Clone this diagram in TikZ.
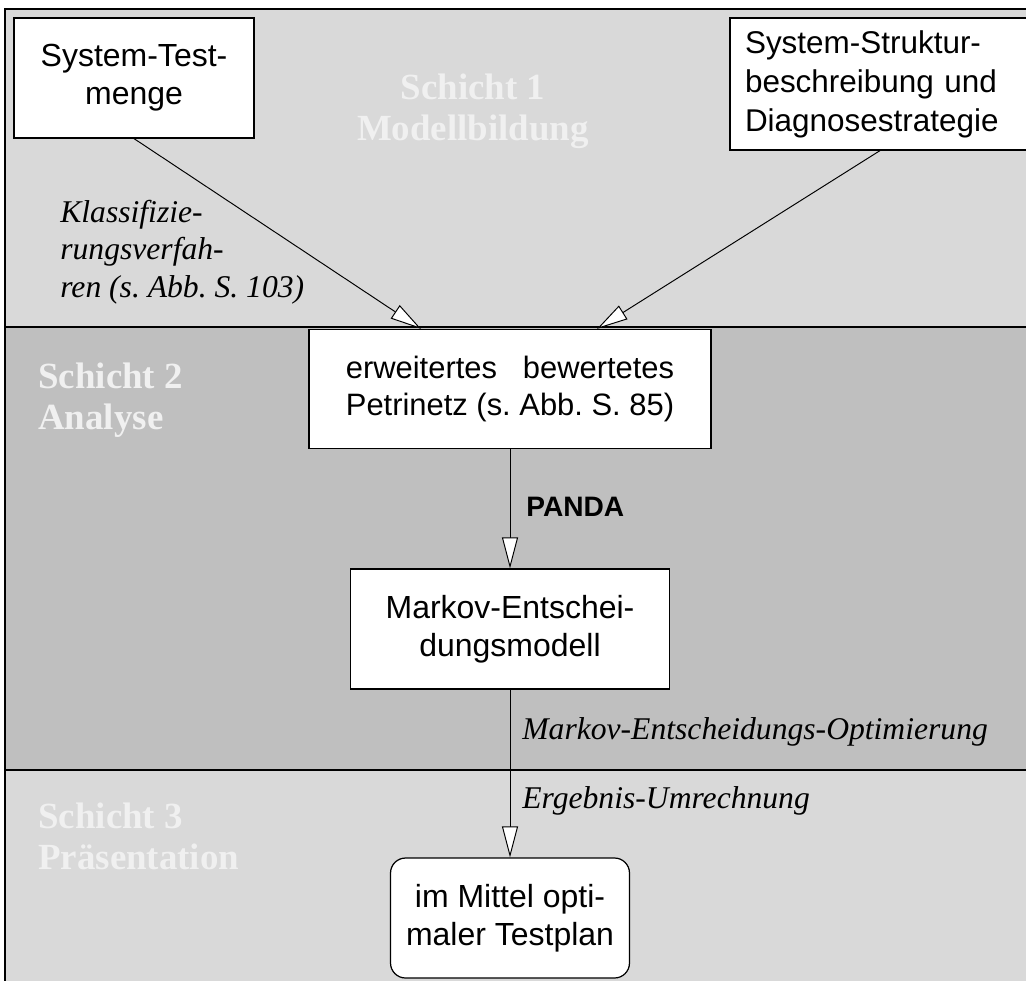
\documentclass[tikz,border=0pt]{standalone}
\usepackage{fontspec}
\setmainfont{Liberation Serif}
\newfontfamily\boxfont{Liberation Sans}
\usetikzlibrary{arrows.meta,positioning}
\definecolor{layerlight}{HTML}{D9D9D9}
\definecolor{layerdark}{HTML}{BFBFBF}
\definecolor{layertext}{HTML}{F0F0F0}

\begin{document}
\begin{tikzpicture}[x=0.02cm,y=-0.02cm,
  box/.style={draw,line width=0.7pt,fill=white,align=center,inner sep=0pt,minimum height=2.4cm,font=\boxfont\fontsize{18.2}{21.8}\selectfont},
  layertitle/.style={text=layertext,font=\bfseries\fontsize{21}{23.4}\selectfont,inner sep=0pt},
  steplabel/.style={font=\itshape\fontsize{18}{21.4}\selectfont,inner sep=0pt,anchor=west,align=left},
  flow/.style={line width=0.55pt,-{Triangle[length=0.62cm,width=0.32cm,fill=white]}}]
\useasboundingbox (0,0) rectangle (1026,980);
% draw layers
\fill[layerlight] (5,9) rectangle (1040,327);
\fill[layerdark] (5,327) rectangle (1040,770);
\fill[layerlight] (5,770) rectangle (1040,990);
\draw[line width=0.7pt] (5,990) -- (5,9) -- (1040,9);
\draw[line width=0.7pt] (5,327) -- (1040,327);
\draw[line width=0.7pt] (5,770) -- (1040,770);
% layer titles
\node[layertitle,align=center] (layer1) at (473,111) {Schicht 1\\Modellbildung};
\node[layertitle,align=left,anchor=west] (layer2) at (38,400) {Schicht 2\\Analyse};
\node[layertitle,align=left,anchor=west] (layer3) at (38,836) {Schicht 3\\Präsentation};
% draw boxes
\node[box,minimum width=4.8cm] (sysTest) at (134,78) {System-Test-\\menge};
\node[box,minimum width=6cm,minimum height=2.64cm,align=left,text width=5.4cm,font=\boxfont\fontsize{17.9}{22.2}\selectfont] (sysStruct) at (880,84) {System-Struktur-\\beschreibung und\\Diagnosestrategie};
\node[box,minimum width=8.04cm,minimum height=2.38cm,font=\boxfont\fontsize{17.6}{20.6}\selectfont] (petri) at (510,389) {erweitertes\hspace{0.835em}bewertetes\\Petrinetz (s.~Abb.~S.~85)};
\node[box,minimum width=6.38cm] (markov) at (510,629) {Markov-Entschei-\\dungsmodell};
\node[box,minimum width=4.78cm,rounded corners=0.3cm] (plan) at (510,918) {im Mittel opti-\\maler Testplan};
% draw arrows
\draw[flow] (sysTest.south) -- ([xshift=-1.78cm]petri.north);
\draw[flow] (sysStruct.south) -- ([xshift=1.74cm]petri.north);
\draw[flow] (petri.south) -- (markov.north);
\draw[flow] (markov.south) -- (plan.north);
% arrow labels
\node[steplabel] (klass) at (60,252) {Klassifizie-\\rungsverfah-\\ren (s.~Abb.~S.~103)};
\node[steplabel,font=\boxfont\bfseries\fontsize{16}{18}\selectfont] (panda) at (526,507) {PANDA};
\node[steplabel] (optim) at (522,732) {Markov-Entscheidungs-Optimierung};
\node[steplabel] (umrech) at (522,801) {Ergebnis-Umrechnung};
\end{tikzpicture}
\end{document}
